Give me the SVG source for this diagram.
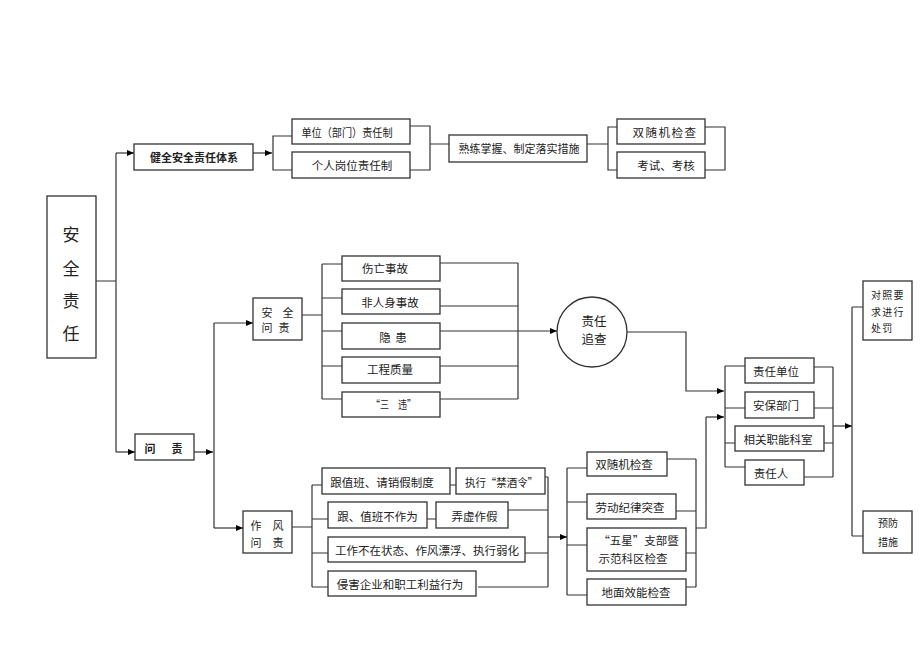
<svg xmlns="http://www.w3.org/2000/svg" width="920" height="651" viewBox="0 0 920 651">
<style>
rect.b{fill:#fff;stroke:#333;stroke-width:1.3}
circle.b{fill:#fff;stroke:#333;stroke-width:1.3}
.c path{fill:none;stroke:#333;stroke-width:1.2}
text{font-family:"Noto Sans CJK SC","Noto Sans",sans-serif;font-size:11.5px;fill:#222;dominant-baseline:central}
.m{text-anchor:middle}
.bd{font-weight:bold;font-size:11px}
</style>
<defs>
<marker id="a" markerWidth="8" markerHeight="6" refX="7" refY="3" orient="auto" markerUnits="userSpaceOnUse"><path d="M0,0 L7,3 L0,6 z" fill="#000"/></marker>
</defs>
<rect width="920" height="651" fill="#fff"/>
<g class="c" id="connectors">
<path d="M96,281 H116 M116,153 V452"/>
<path d="M116,153 H134" marker-end="url(#a)"/>
<path d="M116,452 H135" marker-end="url(#a)"/>
<path d="M253,153 H272" marker-end="url(#a)"/>
<path d="M292,136 H273 V170 H292"/>
<path d="M410,126 H430 V170 H410 M430,144 H449"/>
<path d="M587,144 H608 M617,127 H608 V170 H617"/>
<path d="M705,127 H725 V170 H705"/>
<path d="M194,452 H213" marker-end="url(#a)"/>
<path d="M214,323 V528"/>
<path d="M214,323 H253" marker-end="url(#a)"/>
<path d="M214,528 H243" marker-end="url(#a)"/>
<path d="M302,315 H322 M322,264 V399 M322,264 H342 M322,298 H342 M322,331 H342 M322,366 H342 M322,399 H342"/>
<path d="M440,263 H518 M440,306 H518 M440,366 H518 M440,399 H518 M518,263 V399"/>
<path d="M440,331 H557" marker-end="url(#a)"/>
<path d="M627,332 H686 V391 H724" marker-end="url(#a)"/>
<path d="M725,366 V467 M725,366 H745 M725,408 H745 M725,443 H735 M725,467 H745"/>
<path d="M814,367 H833 M814,408 H833 M824,443 H833 M804,477 H833 M833,367 V477"/>
<path d="M833,426 H852" marker-end="url(#a)"/>
<path d="M852,307 V536 M852,307 H863 M852,536 H863"/>
<path d="M292,527 H312 M312,485 V587 M312,485 H322 M312,519 H328 M312,553 H328 M312,587 H328"/>
<path d="M450,485 H456 M427,519 H436"/>
<path d="M545,477 H548 M508,510 H548 M525,553 H548 M478,587 H548 M548,477 V587"/>
<path d="M548,537 H567" marker-end="url(#a)"/>
<path d="M567,468 V595 M567,468 H587 M567,502 H587 M567,545 H587 M567,595 H587"/>
<path d="M667,459 H696 M676,511 H696 M686,553 H696 M686,587 H696 M696,459 V587 M696,528 H706 V417"/>
<path d="M706,417 H724" marker-end="url(#a)"/>
</g>
<g id="main"><rect class="b" x="47" y="196" width="49" height="162"/>
<text class="m" x="71" y="233" style="font-size:17px">安</text>
<text class="m" x="71" y="267" style="font-size:17px">全</text>
<text class="m" x="71" y="299" style="font-size:17px">责</text>
<text class="m" x="71" y="332" style="font-size:17px">任</text></g>
<g id="n-jianquan"><rect class="b" x="134" y="144" width="119" height="26"/><text class="m bd" x="194" y="157">健全安全责任体系</text></g>
<g id="n-danwei"><rect class="b" x="292" y="119" width="118" height="25"/><text class="m" x="347" y="131.5" textLength="91" lengthAdjust="spacingAndGlyphs">单位（部门）责任制</text></g>
<g id="n-geren"><rect class="b" x="292" y="152" width="118" height="26"/><text class="m" x="352" y="165">个人岗位责任制</text></g>
<g id="n-shulian"><rect class="b" x="449" y="135" width="138" height="27"/><text class="m" x="519" y="148" style="font-size:11px">熟练掌握、制定落实措施</text></g>
<g id="n-shuangsui1"><rect class="b" x="617" y="119" width="88" height="25"/><text class="m" x="665" y="131.5" style="letter-spacing:1.5px">双随机检查</text></g>
<g id="n-kaoshi"><rect class="b" x="617" y="152" width="88" height="26"/><text class="m" x="666" y="165">考试、考核</text></g>
<g id="n-anquanwenze"><rect class="b" x="253" y="298" width="49" height="42"/>
<text class="m" x="267" y="312" style="font-size:11px">安</text><text class="m" x="288" y="312" style="font-size:11px">全</text>
<text class="m" x="267" y="327" style="font-size:11px">问</text><text class="m" x="284" y="327" style="font-size:11px">责</text></g>
<g id="n-shangwang"><rect class="b" x="342" y="256" width="98" height="25"/><text class="m" x="385" y="268">伤亡事故</text></g>
<g id="n-feirenshen"><rect class="b" x="342" y="289" width="98" height="25"/><text class="m" x="390" y="302">非人身事故</text></g>
<g id="n-yinhuan"><rect class="b" x="342" y="323" width="98" height="26"/><text class="m" y="337"><tspan x="385">隐</tspan><tspan x="401">患</tspan></text></g>
<g id="n-gongcheng"><rect class="b" x="342" y="357" width="98" height="26"/><text class="m" x="390" y="369">工程质量</text></g>
<g id="n-sanwei"><rect class="b" x="342" y="392" width="98" height="25"/><text class="m" x="393.5" y="404" textLength="45" lengthAdjust="spacingAndGlyphs">“三　违”</text></g>
<g id="n-zhuicha"><circle class="b" cx="592" cy="332" r="35"/><text class="m" x="594" y="320" style="font-size:12.5px">责任</text><text class="m" x="594" y="338" style="font-size:12.5px">追查</text></g>
<g id="n-zerendanwei"><rect class="b" x="745" y="358" width="69" height="25"/><text class="m" x="776" y="371">责任单位</text></g>
<g id="n-anbao"><rect class="b" x="745" y="392" width="69" height="26"/><text class="m" x="776" y="405">安保部门</text></g>
<g id="n-xiangguan"><rect class="b" x="735" y="426" width="89" height="25"/><text class="m" x="778" y="439">相关职能科室</text></g>
<g id="n-zerenren"><rect class="b" x="745" y="460" width="59" height="25"/><text class="m" x="771" y="473">责任人</text></g>
<g id="n-chufa"><rect class="b" x="863" y="281" width="49" height="59"/>
<text x="871" y="294" style="font-size:10px;letter-spacing:1.3px">对照要</text>
<text x="871" y="311" style="font-size:10px;letter-spacing:1.3px">求进行</text>
<text x="871" y="327" style="font-size:10px;letter-spacing:1.3px">处罚</text></g>
<g id="n-yufang"><rect class="b" x="863" y="511" width="49" height="42"/>
<text class="m" x="888" y="522" style="font-size:10px">预防</text>
<text class="m" x="888" y="541" style="font-size:10px">措施</text></g>
<g id="n-wenze"><rect class="b" x="135" y="434" width="59" height="26"/><text class="m bd" x="150" y="448">问</text><text class="m bd" x="177" y="448">责</text></g>
<g id="n-zuofeng"><rect class="b" x="243" y="511" width="49" height="42"/>
<text class="m" x="256" y="525" style="font-size:11px">作</text><text class="m" x="278" y="525" style="font-size:11px">风</text>
<text class="m" x="256" y="542" style="font-size:11px">问</text><text class="m" x="278" y="542" style="font-size:11px">责</text></g>
<g id="n-zhiban"><rect class="b" x="322" y="468" width="128" height="26"/><text class="m" x="382" y="482">跟值班、请销假制度</text></g>
<g id="n-jinjiu"><rect class="b" x="456" y="468" width="89" height="26"/><text class="m" x="501.5" y="482" textLength="73" lengthAdjust="spacingAndGlyphs">执行“禁酒令”</text></g>
<g id="n-buzuowei"><rect class="b" x="328" y="502" width="99" height="26"/><text class="m" x="377.5" y="516">跟、值班不作为</text></g>
<g id="n-nongxu"><rect class="b" x="436" y="502" width="72" height="26"/><text class="m" x="474.5" y="516">弄虚作假</text></g>
<g id="n-gongzuo"><rect class="b" x="328" y="537" width="197" height="25"/><text class="m" x="427" y="550">工作不在状态、作风漂浮、执行弱化</text></g>
<g id="n-qinhai"><rect class="b" x="328" y="571" width="148" height="25"/><text class="m" x="400" y="584">侵害企业和职工利益行为</text></g>
<g id="n-shuangsui2"><rect class="b" x="587" y="452" width="80" height="24"/><text class="m" x="624" y="464">双随机检查</text></g>
<g id="n-laodong"><rect class="b" x="587" y="494" width="89" height="25"/><text class="m" x="630" y="507">劳动纪律突查</text></g>
<g id="n-wuxing"><rect class="b" x="587" y="528" width="99" height="43"/><text class="m" x="638.5" y="540">“五星”支部暨</text><text class="m" x="633" y="558">示范科区检查</text></g>
<g id="n-dimian"><rect class="b" x="587" y="579" width="99" height="26"/><text class="m" x="636" y="592">地面效能检查</text></g>
</svg>
